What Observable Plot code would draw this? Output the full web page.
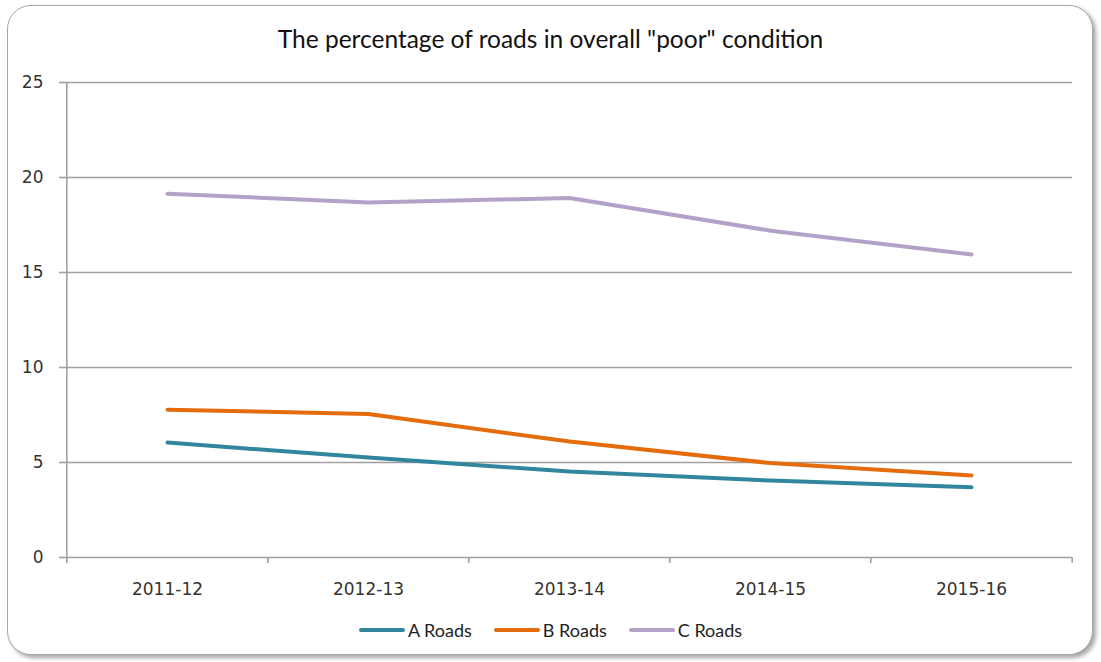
<!DOCTYPE html>
<html>
<head>
<meta charset="utf-8">
<script src="https://cdn.jsdelivr.net/npm/d3@7"></script>
<script src="https://cdn.jsdelivr.net/npm/@observablehq/plot@0.6"></script>
<style>
  html, body { margin: 0; padding: 0; background: #ffffff; }
  #wrap { position: relative; width: 1101px; height: 662px; overflow: hidden; background: #fff; }
  #box { position: absolute; left: 7px; top: 5px; width: 1084px; height: 648px; border: 1.5px solid #a8a8a8; border-radius: 24px; box-shadow: 3px 3px 4px rgba(0,0,0,0.35); background: #fff; }
  #title { position: absolute; left: 0; width: 1101px; top: 24px; text-align: center; font-family: Lato, "Liberation Sans", sans-serif; font-size: 24.5px; color: #111; }
  #chart { position: absolute; left: 0; top: 0; }
  #legend { position: absolute; left: 0; width: 1101px; top: 619px; display: flex; justify-content: center; gap: 22px; font-family: Lato, "Liberation Sans", sans-serif; font-size: 18px; color: #222; }
  .item { display: flex; align-items: center; gap: 3px; }
  .sw { width: 46px; height: 4px; border-radius: 2px; }
</style>
</head>
<body>
<div id="wrap">
  <div id="box"></div>
  <div id="title">The percentage of roads in overall "poor" condition</div>
  <div id="chart"></div>
  <div id="legend"></div>
</div>
<script>
const categories = ["2011-12", "2012-13", "2013-14", "2014-15", "2015-16"];
const aRoads = [6.05, 5.26, 4.52, 4.05, 3.7];
const bRoads = [7.78, 7.55, 6.1, 4.97, 4.32];
const cRoads = [19.15, 18.68, 18.92, 17.2, 15.95];
const seriesNames = ["A Roads", "B Roads", "C Roads"];
const seriesColors = ["#31859C", "#E46C0A", "#B3A2C7"];
const yTicks = [0, 5, 10, 15, 20, 25];

const seriesValues = [aRoads, bRoads, cRoads];
const data = [];
seriesNames.forEach((name, s) => {
  categories.forEach((c, i) => data.push({series: name, period: c, value: seriesValues[s][i]}));
});

const W = 1101, H = 610;
const mL = 65, mR = 29, mT = 82, mB = H - 557;
const step = (W - mL - mR) / categories.length;

const plot = Plot.plot({
  width: W,
  height: H,
  marginLeft: mL,
  marginRight: mR,
  marginTop: mT,
  marginBottom: mB,
  style: {background: "transparent", fontFamily: "'DejaVu Sans', sans-serif", fontSize: "17px", color: "#333"},
  x: {type: "point", domain: categories, padding: 0.5},
  y: {domain: [0, 25]},
  color: {domain: seriesNames, range: seriesColors},
  marks: [
    Plot.ruleY(yTicks, {stroke: "#a0a0a0", strokeWidth: 1.6}),
    Plot.ruleX([categories[0]], {dx: -step / 2, y1: 0, y2: 25, stroke: "#a0a0a0", strokeWidth: 1.6}),
    Plot.axisY(yTicks, {tickSize: 6, tickPadding: 16, stroke: "#a0a0a0", strokeWidth: 1.6, label: null, fill: "#333", fontSize: 17}),
    Plot.axisX(categories, {tickSize: 6, dx: -step / 2, text: null, stroke: "#a0a0a0", strokeWidth: 1.6, label: null}),
    Plot.axisX([categories[categories.length - 1]], {tickSize: 6, dx: step / 2, text: null, stroke: "#a0a0a0", strokeWidth: 1.6, label: null}),
    Plot.axisX(categories, {tickSize: 0, tickPadding: 25, label: null, fill: "#333", fontSize: 17}),
    Plot.line(data, {x: "period", y: "value", z: "series", stroke: "series", strokeWidth: 4, strokeLinecap: "round", strokeLinejoin: "round", curve: "linear"})
  ]
});
document.getElementById("chart").appendChild(plot);

const legend = document.getElementById("legend");
seriesNames.forEach((name, i) => {
  const item = document.createElement("div");
  item.className = "item";
  const sw = document.createElement("div");
  sw.className = "sw";
  sw.style.background = seriesColors[i];
  const t = document.createElement("span");
  t.textContent = name;
  item.appendChild(sw);
  item.appendChild(t);
  legend.appendChild(item);
});
</script>
</body>
</html>
